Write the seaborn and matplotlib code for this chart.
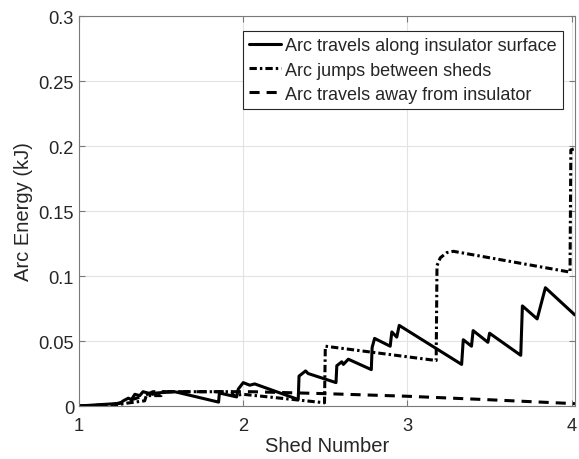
import matplotlib
matplotlib.use("Agg")
import matplotlib.pyplot as plt
import seaborn as sns
import pandas as pd

# Arc energy along the shed sequence for three arc paths
surface_x = [1.00, 1.12, 1.25, 1.27, 1.30, 1.32, 1.34, 1.37, 1.39, 1.45, 1.47, 1.58,
             1.60, 1.85, 1.855, 1.96, 1.97, 2.00, 2.04, 2.07, 2.335, 2.34, 2.38, 2.395,
             2.565, 2.57, 2.60, 2.61, 2.64, 2.78, 2.785, 2.80, 2.895, 2.905, 2.935, 2.95,
             3.33, 3.34, 3.39, 3.40, 3.49, 3.50, 3.69, 3.70, 3.79, 3.84, 4.02]
surface_y = [0.000, 0.001, 0.002, 0.004, 0.006, 0.005, 0.009, 0.008, 0.011, 0.009, 0.010, 0.011,
             0.0105, 0.003, 0.010, 0.007, 0.013, 0.018, 0.016, 0.017, 0.005, 0.023, 0.027, 0.025,
             0.018, 0.031, 0.034, 0.032, 0.036, 0.028, 0.045, 0.052, 0.046, 0.057, 0.053, 0.062,
             0.032, 0.051, 0.046, 0.058, 0.049, 0.056, 0.039, 0.077, 0.067, 0.091, 0.070]

jump_x = [1.00, 1.20, 1.28, 1.40, 1.41, 1.50, 1.51, 1.93, 1.94, 2.00, 2.495, 2.50,
          3.175, 3.18, 3.20, 3.24, 3.28, 3.99, 3.995, 4.02]
jump_y = [0.000, 0.000, 0.002, 0.004, 0.008, 0.008, 0.011, 0.011, 0.008, 0.009, 0.0025, 0.046,
          0.035, 0.108, 0.114, 0.118, 0.119, 0.103, 0.197, 0.198]

away_x = [1.00, 1.20, 1.30, 1.40, 1.45, 2.05, 2.50, 3.00, 3.50, 4.02]
away_y = [0.000, 0.001, 0.004, 0.008, 0.011, 0.011, 0.0095, 0.0075, 0.0048, 0.0018]

labels = ["Arc travels along insulator surface",
          "Arc jumps between sheds",
          "Arc travels away from insulator"]
x_ticks = [1, 2, 3, 4]
y_ticks = [0, 0.05, 0.1, 0.15, 0.2, 0.25, 0.3]
y_tick_labels = ["0", "0.05", "0.1", "0.15", "0.2", "0.25", "0.3"]

sns.set_style("white")
plt.rcParams["font.family"] = ["Liberation Sans", "DejaVu Sans"]

fig = plt.figure(figsize=(5.79, 4.60), dpi=100)
ax = fig.add_axes([0.1364, 0.1152, 0.8566, 0.8478])

lw = 2.2
series = [
    (surface_x, surface_y, labels[0], "-"),
    (jump_x, jump_y, labels[1], (0, (2.4, 1.0, 0.8, 1.0))),
    (away_x, away_y, labels[2], (0, (3.3, 2.3))),
]
for xs, ys, name, ls in series:
    df = pd.DataFrame({"Shed": xs, "Energy": ys})
    sns.lineplot(data=df, x="Shed", y="Energy", ax=ax, color="black",
                 linewidth=lw, linestyle=ls, estimator=None, sort=False,
                 label=name)

ax.set_xlim(1, 4.02)
ax.set_ylim(0, 0.3)
ax.set_xticks(x_ticks)
ax.set_yticks(y_ticks)
ax.set_yticklabels(y_tick_labels)

ax.grid(True, color="#e3e3e3", linewidth=0.8)
ax.set_axisbelow(True)
for sp in ax.spines.values():
    sp.set_color("#7a7a7a")
    sp.set_linewidth(0.8)
    sp.set_visible(True)
ax.tick_params(direction="in", length=4, width=0.8, color="#7a7a7a",
               labelcolor="#262626", labelsize=13.2, top=True, right=True,
               bottom=True, left=True)
ax.tick_params(axis="x", pad=8)

ax.set_xlabel("Shed Number", fontsize=14.5, color="#262626", labelpad=1)
ax.set_ylabel("Arc Energy (kJ)", fontsize=14.5, color="#262626", labelpad=4)

leg = ax.legend(loc="upper right", bbox_to_anchor=(0.976, 0.9615),
                fontsize=13, frameon=True, fancybox=False,
                framealpha=1, edgecolor="#262626", borderaxespad=0,
                handlelength=1.8, handletextpad=0.2, borderpad=0.35,
                labelspacing=0.4)
leg.get_frame().set_linewidth(0.8)

fig.savefig("out.png", dpi=100)
